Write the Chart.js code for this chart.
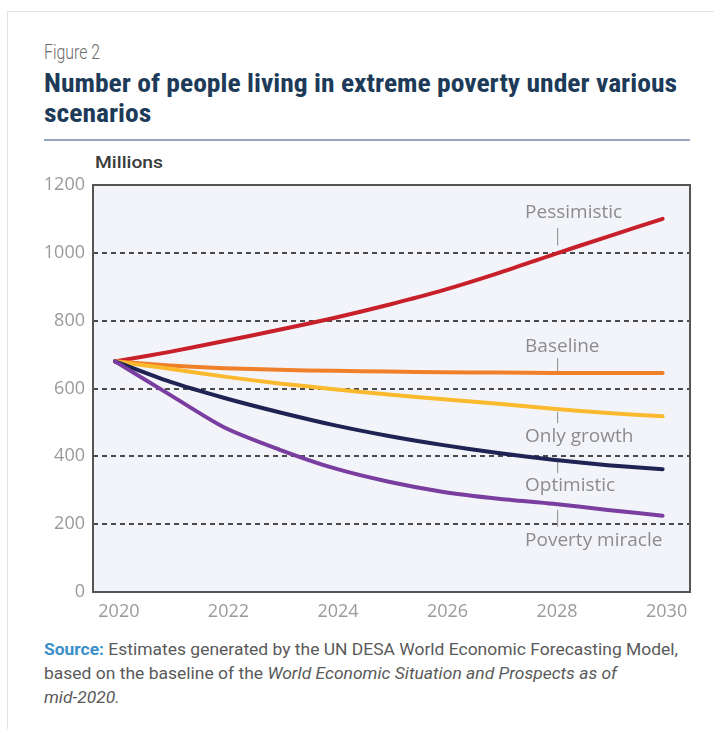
<!DOCTYPE html>
<html>
<head>
<meta charset="utf-8">
<script src="https://cdn.jsdelivr.net/npm/chart.js@4.4.1/dist/chart.umd.min.js"></script>
<style>
  html, body { margin:0; padding:0; background:#fff; }
  body { width:714px; height:729px; position:relative; overflow:hidden; font-family:"Roboto","Liberation Sans",sans-serif; }
  .frame { position:absolute; left:7px; top:11px; width:720px; height:730px; border-left:1px solid #e2e2e2; border-top:1px solid #e2e2e2; }
  .t { position:absolute; white-space:nowrap; line-height:1; transform-origin:0 0; }
  #fig { left:44px; top:42px; font-size:20px; color:#6a6a6a; font-weight:300; }
  .title { left:44px; font-size:26px; font-weight:bold; color:#1d3b58; font-family:"Roboto Condensed","Liberation Sans Narrow","Roboto",sans-serif; }
  #t1 { top:70px; } #t2 { top:100px; }
  #rule { position:absolute; left:44px; top:139px; width:646px; height:2px; background:#95a6ba; }
  #mill { left:95px; top:154px; font-size:17px; color:#3a3a3a; font-weight:500; }
  .src { left:44px; font-size:17px; color:#5a5a5a; }
  .src b { color:#3b8fc9; }
  #s1 { top:641px; } #s2 { top:665px; } #s3 { top:689px; }
  #wrap { position:absolute; left:0; top:150px; width:714px; height:480px; }
</style>
</head>
<body>
<div class="frame"></div>
<div class="t" id="fig">Figure 2</div>
<div class="t title" id="t1">Number of people living in extreme poverty under various</div>
<div class="t title" id="t2">scenarios</div>
<div id="rule"></div>
<div class="t" id="mill">Millions</div>
<div id="wrap"><canvas id="c" width="714" height="480"></canvas></div>
<div class="t src" id="s1"><b>Source:</b> Estimates generated by the UN DESA World Economic Forecasting Model,</div>
<div class="t src" id="s2">based on the baseline of the <i>World Economic Situation and Prospects as of</i></div>
<div class="t src" id="s3"><i>mid-2020.</i></div>
<script>
// ---- data ----
const years = [2020, 2021, 2022, 2023, 2024, 2025, 2026, 2027, 2028, 2029, 2030];
const pessimistic = [680, 708, 740, 773, 808, 847, 890, 940, 995, 1048, 1100];
const baseline    = [680, 668, 660, 655, 652, 650, 648, 647, 646, 646, 646];
const onlyGrowth  = [680, 658, 635, 615, 598, 582, 568, 555, 540, 528, 518];
const optimistic  = [680, 620, 572, 530, 492, 460, 433, 410, 390, 374, 362];
const povertyMiracle = [680, 582, 485, 420, 365, 325, 295, 275, 260, 242, 225];
const seriesNames = ["Pessimistic", "Baseline", "Only growth", "Optimistic", "Poverty miracle"];
const xTicks = [2020, 2022, 2024, 2026, 2028, 2030];
const yTicks = [0, 200, 400, 600, 800, 1000, 1200];

// label placement (data units) for the scenario annotations
const labelYear = 2028;
const labelPos = [
  { text: "Pessimistic",     textY: 1120, tick: [1073, 1022] },
  { text: "Baseline",        textY: 725,  tick: [690, 649] },
  { text: "Only growth",     textY: 457,  tick: [531, 498] },
  { text: "Optimistic",      textY: 315,  tick: [389, 351] },
  { text: "Poverty miracle", textY: 153,  tick: [242, 192] }
];

const colors = ["#c8202a", "#f07f2a", "#fbb92e", "#1e2354", "#7a3ea0"];
const seriesVals = [pessimistic, baseline, onlyGrowth, optimistic, povertyMiracle];

const datasets = seriesVals.map((vals, i) => ({
  label: seriesNames[i],
  data: years.map((y, j) => ({ x: y, y: vals[j] })),
  borderColor: colors[i],
  backgroundColor: colors[i],
  borderWidth: 4,
  pointRadius: 0,
  tension: 0.25,
  borderCapStyle: 'round',
  borderJoinStyle: 'round'
})).reverse();

const tickFont = { family: "'Open Sans','Liberation Sans',sans-serif", size: 18 };

const decor = {
  id: 'decor',
  beforeDraw(chart) {
    const { ctx, chartArea: a } = chart;
    ctx.save();
    ctx.fillStyle = '#f3f4f9';
    ctx.fillRect(a.left, a.top, a.right - a.left, a.bottom - a.top);
    ctx.restore();
  },
  beforeDatasetsDraw(chart) {
    const { ctx, chartArea: a } = chart;
    ctx.save();
    ctx.strokeStyle = '#555';
    ctx.lineWidth = 2;
    ctx.strokeRect(a.left, a.top, a.right - a.left, a.bottom - a.top);
    const xs = chart.scales.x, ys = chart.scales.y;
    const px = xs.getPixelForValue(labelYear);
    ctx.font = "19px 'Open Sans','Liberation Sans',sans-serif";
    ctx.fillStyle = '#8c8c8c';
    ctx.textBaseline = 'middle';
    ctx.textAlign = 'left';
    ctx.strokeStyle = '#9a9a9a';
    ctx.lineWidth = 1.2;
    labelPos.forEach(l => {
      ctx.fillText(l.text, px - 28, ys.getPixelForValue(l.textY));
      ctx.beginPath();
      ctx.moveTo(px + 4.5, ys.getPixelForValue(l.tick[0]));
      ctx.lineTo(px + 4.5, ys.getPixelForValue(l.tick[1]));
      ctx.stroke();
    });
    ctx.restore();
  }
};

new Chart(document.getElementById('c'), {
  type: 'line',
  data: { datasets },
  plugins: [decor],
  options: {
    responsive: false,
    animation: false,
    events: [],
    layout: { padding: { top: 35, right: 24, bottom: 0, left: 0 } },
    plugins: { legend: { display: false }, tooltip: { enabled: false } },
    scales: {
      x: {
        type: 'linear',
        min: 2019.6,
        max: 2030.5,
        afterBuildTicks: ax => { ax.ticks = xTicks.map(v => ({ value: v })); },
        afterFit: ax => { ax.height = 38; },
        grid: { display: false },
        border: { display: false },
        ticks: { color: '#9a9a9a', font: tickFont, padding: 1, labelOffset: 4, maxRotation: 0, autoSkip: false, callback: v => String(v) }
      },
      y: {
        min: 0,
        max: 1200,
        afterBuildTicks: ax => { ax.ticks = yTicks.map(v => ({ value: v })); },
        afterFit: ax => { ax.width = 93; },
        border: { display: false, dash: [5, 4] },
        grid: {
          drawTicks: false,
          color: c => (c.tick && (c.tick.value === 0 || c.tick.value === 1200)) ? 'rgba(0,0,0,0)' : '#4a4a4a',
          lineWidth: 2
        },
        ticks: { color: '#9a9a9a', font: tickFont, padding: 8, callback: v => String(v) }
      }
    }
  }
});
</script>
<script>
function fit(id, w) {
  const el = document.getElementById(id);
  const s = w / el.getBoundingClientRect().width;
  el.style.transform = 'scaleX(' + s + ')';
  return s;
}
function fitAll() {
  document.querySelectorAll('.t').forEach(e => e.style.transform = '');
  fit('fig', 56);
  const s = fit('t1', 633);
  document.getElementById('t2').style.transform = 'scaleX(' + s + ')';
  fit('mill', 68);
  fit('s1', 634);
  const s2 = fit('s2', 573);
  document.getElementById('s3').style.transform = 'scaleX(' + s2 + ')';
}
fitAll();
if (document.fonts && document.fonts.ready) document.fonts.ready.then(fitAll);
</script>
</body>
</html>
